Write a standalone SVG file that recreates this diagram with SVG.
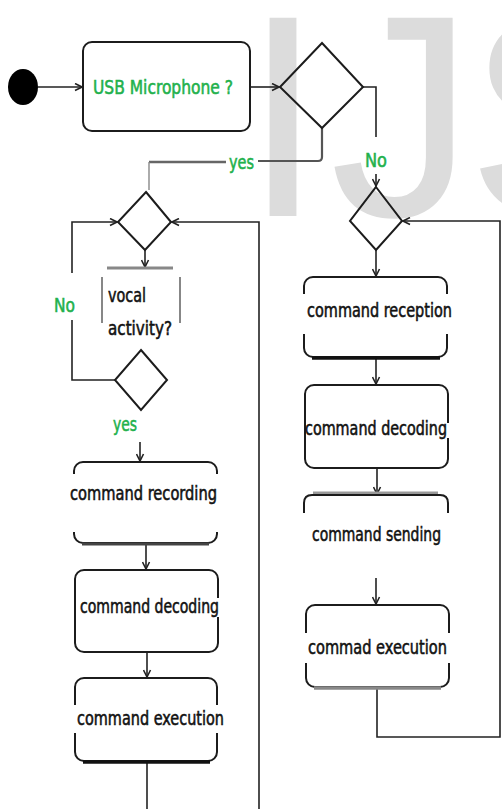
<svg xmlns="http://www.w3.org/2000/svg" width="502" height="809" viewBox="0 0 502 809">
  <style>
    .wm { font-family: "Liberation Sans", Arial, sans-serif; font-size: 288px; fill: #dcdcdc; }
    .box { fill: #fff; stroke: #1c1c1c; stroke-width: 2; }
    .dia { fill: none; stroke: #1c1c1c; stroke-width: 2; stroke-linejoin: miter; }
    .ln { fill: none; stroke: #222; stroke-width: 1.6; }
    .arr { marker-end: url(#ah); }
    .bg { fill: #fff; stroke: none; }
    .shd { stroke: #111; stroke-width: 3.5; fill: none; }
    .t { font-family: "Liberation Sans Narrow", "DejaVu Sans Condensed", "DejaVu Sans", sans-serif; font-size: 20px; fill: #111; stroke: #111; stroke-width: 0.55; }
    .g { font-family: "Liberation Sans Narrow", "DejaVu Sans Condensed", "DejaVu Sans", sans-serif; font-size: 20px; fill: #22b14c; stroke: #22b14c; stroke-width: 0.55; }
  </style>
  <defs>
    <marker id="ah" markerWidth="9" markerHeight="9" refX="8" refY="4.5" orient="auto" markerUnits="userSpaceOnUse">
      <path d="M1,1 L8,4.5 L1,8" fill="none" stroke="#222" stroke-width="1.6"/>
    </marker>
  </defs>
  <rect width="502" height="809" fill="#fff"/>

  <!-- watermark -->
  <text class="wm" y="216"><tspan x="243">I</tspan><tspan x="330">J</tspan><tspan x="467">S</tspan></text>

  <!-- connectors -->
  <g id="connectors">
    <path class="ln arr" d="M38,87 H82"/>
    <path class="ln arr" d="M250,87 H279"/>
    <path class="ln" d="M363,87 H376 V137"/>
    <path class="ln arr" d="M376,174 V186"/>
    <path class="ln" d="M322,128 V157 Q322,161 318,161 H258" style="stroke:#555;stroke-width:2.2"/>
    <path class="ln" d="M226,162 H149" style="stroke:#666;stroke-width:2.4"/>
    <path class="ln" d="M149,162 V190" style="stroke:#888;stroke-width:1.4"/>
    <path class="ln arr" d="M376,250 V276"/>
    <path class="ln arr" d="M376,358 V384"/>
    <path class="ln arr" d="M377,468 V494"/>
    <path class="ln arr" d="M376,578 V604"/>
    <path class="ln arr" d="M377,688 V737 H500 V221 H403"/>
    <path class="ln arr" d="M145,250 V267"/>
    <path class="ln" d="M115,380 H72 V320"/>
    <path class="ln arr" d="M72,273 V222 H117"/>
    <path class="ln arr" d="M259,809 V222 H172"/>
    <path class="ln arr" d="M140,442 V461"/>
    <path class="ln arr" d="M146,545 V569"/>
    <path class="ln arr" d="M147,652 V677"/>
    <path class="ln" d="M147,763 V809"/>
  </g>

  <!-- start -->
  <g id="start">
    <ellipse cx="23" cy="87" rx="15" ry="18" fill="#000"/>
  </g>

  <!-- USB Microphone -->
  <g id="usb">
    <rect class="box" x="83" y="42" width="167" height="89" rx="9"/>
    <text class="g" x="93" y="94" font-size="21" textLength="140" lengthAdjust="spacingAndGlyphs">USB Microphone ?</text>
  </g>

  <g id="decision1">
    <path class="dia" d="M322,43 L363,87 L322,128 L280,87 Z"/>
  </g>

  <g id="label-yes-top">
    <text class="g" x="229" y="169" textLength="25" lengthAdjust="spacingAndGlyphs">yes</text>
  </g>
  <g id="label-no-right">
    <text class="g" x="365" y="167" textLength="22" lengthAdjust="spacingAndGlyphs">No</text>
  </g>

  <!-- right branch -->
  <g id="decision2">
    <path class="dia" d="M376,187 L402,221 L376,250 L350,221 Z"/>
  </g>

  <g id="reception">
    <rect class="box" x="304" y="277" width="143" height="80" rx="9"/>
    <path class="shd" d="M312,358 H440"/>
    <rect class="bg" x="300" y="294" width="156" height="40"/>
    <text class="t" x="307" y="317" textLength="145" lengthAdjust="spacingAndGlyphs">command reception</text>
  </g>

  <g id="decoding-right">
    <rect class="box" x="305" y="385" width="143" height="83" rx="9"/>
    <rect class="bg" x="443" y="423" width="8" height="15"/>
    <text class="t" x="305" y="435" textLength="142" lengthAdjust="spacingAndGlyphs">command decoding</text>
  </g>

  <g id="sending">
    <path d="M313,493 H438" stroke="#999" stroke-width="3" fill="none"/>
    <path d="M304,513 V503 Q304,495 312,495 H440 Q448,495 448,503 V513" fill="none" stroke="#1c1c1c" stroke-width="2"/>
    <text class="t" x="312" y="541" textLength="129" lengthAdjust="spacingAndGlyphs">command sending</text>
  </g>

  <g id="execution-right">
    <rect class="box" x="306" y="605" width="143" height="82" rx="9"/>
    <path class="shd" d="M314,688 H441" style="stroke:#888"/>
    <rect class="bg" x="302" y="633" width="152" height="30"/>
    <text class="t" x="308" y="654" textLength="139" lengthAdjust="spacingAndGlyphs">commad execution</text>
  </g>

  <!-- left branch -->
  <g id="decision3">
    <path class="dia" d="M146,192 L171,222 L145,250 L118,222 Z"/>
  </g>

  <g id="vocal">
    <path d="M107,268 H173" stroke="#888" stroke-width="3" fill="none"/>
    <path d="M102,277 V323 M180,277 V323" stroke="#555" stroke-width="1.4" fill="none"/>
    <text class="t" x="108" y="302" textLength="38" lengthAdjust="spacingAndGlyphs">vocal</text>
    <text class="t" x="108" y="335" textLength="64" lengthAdjust="spacingAndGlyphs">activity?</text>
  </g>

  <g id="decision4">
    <path class="dia" d="M141,350 L167,380 L141,410 L115,380 Z"/>
  </g>

  <g id="label-no-left">
    <text class="g" x="54" y="312" textLength="21" lengthAdjust="spacingAndGlyphs">No</text>
  </g>
  <g id="label-yes-left">
    <text class="g" x="113" y="431" textLength="24" lengthAdjust="spacingAndGlyphs">yes</text>
  </g>

  <g id="recording">
    <rect class="box" x="74" y="462" width="143" height="81" rx="9"/>
    <path class="shd" d="M82,544 H209" style="stroke:#444;stroke-width:3"/>
    <rect class="bg" x="66" y="474" width="156" height="58"/>
    <text class="t" x="70" y="500" textLength="147" lengthAdjust="spacingAndGlyphs">command recording</text>
  </g>

  <g id="decoding-left">
    <rect class="box" x="75" y="570" width="143" height="82" rx="9"/>
    <rect class="bg" x="212" y="598" width="10" height="19"/>
    <text class="t" x="80" y="613" textLength="139" lengthAdjust="spacingAndGlyphs">command decoding</text>
  </g>

  <g id="execution-left">
    <rect class="box" x="75" y="678" width="142" height="83" rx="9"/>
    <path class="shd" d="M83,762 H210"/>
    <rect class="bg" x="70" y="705" width="158" height="28"/>
    <text class="t" x="77" y="725" textLength="147" lengthAdjust="spacingAndGlyphs">command execution</text>
  </g>
</svg>
